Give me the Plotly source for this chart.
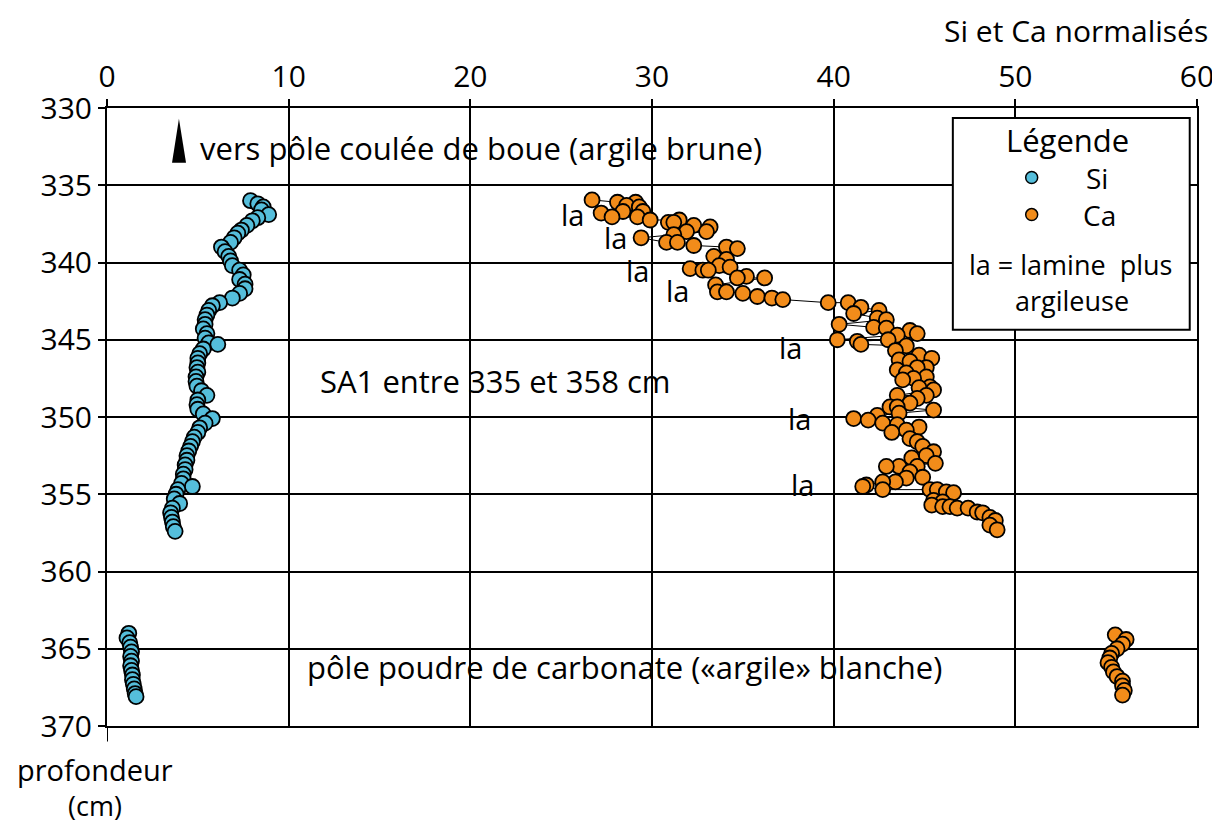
import plotly.graph_objects as go

# Si (SA1 section, 335-358 cm)
si_depth = [336.0, 336.2, 336.4, 336.6, 336.9, 337.1, 337.3, 337.6, 337.9, 338.1,
            338.4, 338.7, 339.0, 339.3, 339.6, 339.9, 340.2, 340.5, 340.8, 341.1,
            341.4, 341.7, 342.0, 342.3, 342.6, 342.8, 343.1, 343.4, 343.7, 344.0,
            344.3, 344.6, 344.9, 345.2, 345.3, 345.6, 345.9, 346.2, 346.5, 346.8,
            347.1, 347.4, 347.7, 348.0, 348.3, 348.6, 348.9, 349.2, 349.5, 349.8,
            350.1, 350.4, 350.7, 351.0, 351.3, 351.6, 351.9, 352.2, 352.5, 352.8,
            353.1, 353.4, 353.7, 354.0, 354.3, 354.5, 354.7, 355.0, 355.3, 355.6,
            355.9, 356.2, 356.5, 356.8, 357.1, 357.4]
si_value = [7.9, 8.3, 8.6, 8.5, 8.9, 8.3, 8.0, 7.7, 7.4, 7.2,
            7.0, 6.8, 6.3, 6.5, 6.7, 6.8, 6.9, 7.3, 7.5, 7.3,
            7.6, 7.6, 7.3, 6.9, 6.2, 5.8, 5.6, 5.5, 5.4, 5.4,
            5.3, 5.5, 5.4, 5.6, 6.1, 5.3, 5.1, 5.0, 5.0, 4.95,
            5.0, 4.9, 4.9, 4.95, 5.2, 5.5, 5.0, 4.95, 5.0, 5.3,
            5.8, 5.4, 5.1, 5.0, 4.8, 4.7, 4.6, 4.5, 4.4, 4.4,
            4.3, 4.3, 4.2, 4.2, 4.1, 4.7, 3.9, 3.8, 3.7, 4.0,
            3.6, 3.5, 3.55, 3.6, 3.65, 3.75]

# Si, pole poudre de carbonate
si_pole_depth = [364.0, 364.3, 364.6, 364.9, 365.2, 365.5, 365.8, 366.1,
                 366.4, 366.7, 367.0, 367.3, 367.6, 367.9, 368.1]
si_pole_value = [1.2, 1.1, 1.25, 1.3, 1.35, 1.3, 1.35, 1.3,
                 1.35, 1.4, 1.4, 1.45, 1.5, 1.55, 1.6]

# Ca (SA1 section)
ca_depth = [335.95, 336.1, 336.1, 336.3, 336.4, 336.7, 336.7, 336.8, 337.05, 337.05,
            337.25, 337.25, 337.4, 337.4, 337.6, 337.7, 338.0, 338.0, 338.2, 338.4,
            338.7, 338.7, 338.9, 339.0, 339.1, 339.6, 339.8, 340.2, 340.3, 340.4,
            340.5, 340.5, 340.9, 341.0, 341.0, 341.45, 341.9, 341.9, 342.0, 342.2,
            342.3, 342.4, 342.6, 342.6, 342.9, 343.1, 343.3, 343.6, 343.7, 344.0,
            344.2, 344.25, 344.4, 344.6, 344.7, 345.0, 345.0, 345.1, 345.3, 345.4,
            345.7, 346.0, 346.2, 346.3, 346.4, 346.8, 346.8, 346.95, 347.15, 347.4,
            347.5, 347.6, 348.05, 348.1, 348.25, 348.6, 348.6, 348.8, 349.1, 349.35,
            349.35, 349.55, 349.75, 349.9, 350.1, 350.2, 350.4, 350.5, 350.65, 350.85,
            351.0, 351.4, 351.6, 351.9, 352.25, 352.5, 352.65, 353.0, 353.2, 353.2,
            353.2, 353.55, 353.9, 353.95, 354.2, 354.2, 354.4, 354.5, 354.7, 354.7,
            354.7, 354.85, 354.9, 355.4, 355.5, 355.7, 355.8, 355.8, 355.9, 355.9,
            356.15, 356.2, 356.5, 356.7, 357.0, 357.3]
ca_value = [26.7, 28.1, 29.1, 28.6, 29.3, 28.4, 29.5, 27.2, 27.8, 29.2,
            29.9, 31.5, 30.9, 31.2, 32.3, 33.2, 31.9, 33.0, 31.2, 29.4,
            30.8, 31.4, 32.3, 34.1, 34.7, 33.4, 34.1, 33.7, 34.3, 32.1,
            32.8, 33.1, 35.2, 34.7, 36.2, 33.5, 33.6, 34.1, 35.0, 35.8,
            36.6, 37.2, 39.7, 40.8, 41.5, 42.5, 41.1, 42.4, 42.9, 40.3,
            42.2, 42.9, 44.2, 44.6, 43.5, 40.2, 43.0, 41.3, 41.5, 44.0,
            43.4, 44.7, 45.4, 43.6, 44.2, 45.1, 44.6, 43.5, 44.0, 45.1,
            44.4, 43.8, 45.3, 44.7, 45.5, 43.5, 45.1, 44.6, 44.2, 43.1,
            43.5, 45.5, 43.6, 42.4, 41.1, 41.9, 42.7, 43.5, 44.7, 44.0,
            43.2, 44.2, 44.6, 44.9, 45.5, 45.1, 44.3, 45.6, 43.6, 42.9,
            44.6, 44.2, 44.9, 44.0, 43.4, 42.7, 41.8, 41.6, 42.7, 45.3,
            45.7, 46.2, 46.6, 45.5, 46.0, 45.4, 46.0, 46.4, 46.8, 47.4,
            47.9, 48.2, 48.6, 48.9, 48.6, 49.0]

# Ca, pole poudre de carbonate
ca_pole_depth = [364.1, 364.4, 364.7, 365.0, 365.3, 365.6, 365.9,
                 366.2, 366.5, 366.8, 367.1, 367.4, 367.7, 368.0]
ca_pole_value = [55.5, 56.1, 55.9, 55.6, 55.3, 55.2, 55.1,
                 55.3, 55.4, 55.6, 55.9, 55.9, 56.0, 55.9]

# "la" labels (lamine plus argileuse)
la_x = [25.6, 28.0, 29.2, 31.4, 37.6, 38.1, 38.3]
la_y = [336.9, 338.4, 340.5, 341.8, 345.5, 350.1, 354.4]

x_ticks = [0, 10, 20, 30, 40, 50, 60]
y_ticks = [330, 335, 340, 345, 350, 355, 360, 365, 370]

SI_COLOR = '#55BEDB'
CA_COLOR = '#F28C1A'
FONT = 'Open Sans'

fig = go.Figure()


def add_series(x, y, color, name):
    # thin black connecting line, then the circles on top
    fig.add_trace(
        go.Scatter(x=x, y=y, mode='lines', showlegend=False,
                   hoverinfo='skip', line=dict(color='black', width=1)))
    fig.add_trace(
        go.Scatter(x=x, y=y, mode='markers', name=name, showlegend=False,
                   marker=dict(size=15, color=color,
                               line=dict(color='black', width=1.8))))


add_series(si_value, si_depth, SI_COLOR, 'Si')
add_series(si_pole_value, si_pole_depth, SI_COLOR, 'Si')
add_series(ca_value, ca_depth, CA_COLOR, 'Ca')
add_series(ca_pole_value, ca_pole_depth, CA_COLOR, 'Ca')

annotations = []
for lx, ly in zip(la_x, la_y):
    annotations.append(
        dict(x=lx, y=ly, text='la', showarrow=False, font=dict(size=29)))

annotations += [
    dict(x=5.0, y=332.6, text='vers pôle coulée de boue (argile brune)',
         xanchor='left', showarrow=False, font=dict(size=31)),
    dict(x=21.4, y=347.7, text='SA1 entre 335 et 358 cm',
         showarrow=False, font=dict(size=31)),
    dict(x=28.5, y=366.2, text='pôle poudre de carbonate («argile» blanche)',
         showarrow=False, font=dict(size=31)),
    # legend texts
    dict(x=52.85, y=332.05, text='Légende', showarrow=False,
         font=dict(size=31)),
    dict(x=54.5, y=334.5, text='Si', showarrow=False, font=dict(size=28)),
    dict(x=54.65, y=336.9, text='Ca', showarrow=False, font=dict(size=28)),
    dict(x=53.05, y=340.15, text='la = lamine  plus', showarrow=False,
         font=dict(size=27)),
    dict(x=53.1, y=342.45, text='argileuse', showarrow=False,
         font=dict(size=27)),
    # axis titles
    dict(xref='paper', yref='paper', x=1.012, y=1.126, yanchor='middle',
         text='Si et Ca normalisés', xanchor='right', showarrow=False,
         font=dict(size=30)),
    dict(xref='paper', yref='paper', x=-0.011, y=-0.0696, xanchor='center',
         yanchor='middle', text='profondeur', showarrow=False,
         font=dict(size=29)),
    dict(xref='paper', yref='paper', x=-0.011, y=-0.1294, xanchor='center',
         yanchor='middle', text='(cm)', showarrow=False, font=dict(size=27)),
]

shapes = [
    # arrow toward the mud-flow pole
    dict(type='path', xref='x', yref='y',
         path='M 3.58,333.55 L 4.35,333.55 L 3.96,330.7 Z',
         fillcolor='black', line=dict(width=0)),
    # legend box
    dict(type='rect', xref='x', yref='y', x0=46.56, x1=59.6, y0=330.65,
         y1=344.36, fillcolor='white', line=dict(color='black', width=2),
         layer='above'),
    # left axis line running past 370
    dict(type='line', xref='x', yref='paper', x0=0, x1=0, y0=0, y1=-0.025,
         line=dict(color='black', width=2)),
]
# legend symbols
for sym_y, sym_color in [(334.5, SI_COLOR), (336.9, CA_COLOR)]:
    shapes.append(
        dict(type='circle', xref='x', yref='y', xsizemode='pixel',
             ysizemode='pixel', xanchor=50.9, yanchor=sym_y, x0=-6, x1=6,
             y0=-6, y1=6, fillcolor=sym_color,
             line=dict(color='black', width=1.5), layer='above'))

# the page body adds an 8 px offset, margins are set to compensate
fig.update_layout(
    width=1220,
    height=825,
    margin=dict(l=99, r=31, t=100, b=107),
    paper_bgcolor='white',
    plot_bgcolor='white',
    font=dict(family=FONT, color='black', size=30),
    annotations=annotations,
    shapes=shapes,
    showlegend=False,
)

axis_style = dict(showgrid=True, gridcolor='black', gridwidth=2,
                  showline=True, linecolor='black', linewidth=2, mirror=True,
                  ticks='outside', ticklen=7, tickwidth=2, tickcolor='black',
                  zeroline=False, tickfont=dict(size=30), automargin=False)
fig.update_xaxes(range=[0, 60], side='top', tickvals=x_ticks, **axis_style)
fig.update_yaxes(range=[370, 330], tickvals=y_ticks, **axis_style)

fig.write_html("out.html")
